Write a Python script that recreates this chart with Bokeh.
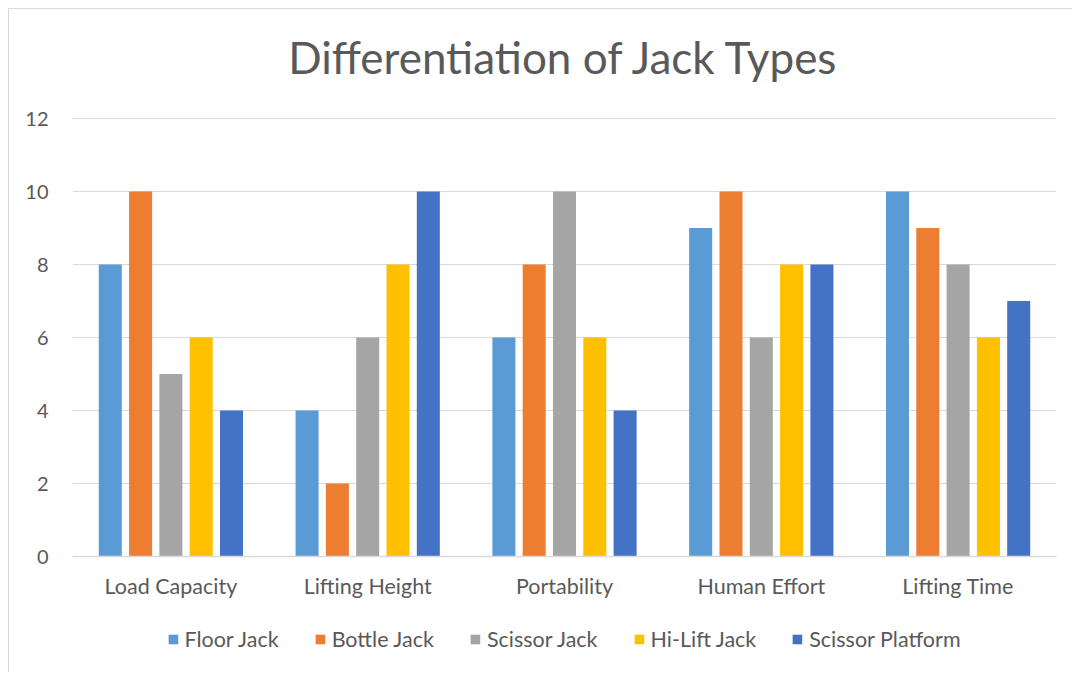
from bokeh.plotting import figure
from bokeh.layouts import column
from bokeh.models import (ColumnDataSource, FactorRange, Legend, LegendItem, Title,
                          Range1d, FixedTicker)
from bokeh.transform import dodge
from bokeh.embed import file_html
from bokeh.resources import INLINE

categories = ["Load Capacity", "Lifting Height", "Portability", "Human Effort", "Lifting Time"]
floor_jack = [8, 4, 6, 9, 10]
bottle_jack = [10, 2, 8, 10, 9]
scissor_jack = [5, 6, 10, 6, 8]
hi_lift_jack = [6, 8, 6, 8, 6]
scissor_platform = [4, 10, 4, 8, 7]
series_names = ["Floor Jack", "Bottle Jack", "Scissor Jack", "Hi-Lift Jack", "Scissor Platform"]
series_keys = ["floor_jack", "bottle_jack", "scissor_jack", "hi_lift_jack", "scissor_platform"]
colors = ["#5B9BD5", "#ED7D31", "#A5A5A5", "#FFC000", "#4472C4"]
y_ticks = [0, 2, 4, 6, 8, 10, 12]
title_text = "Differentiation of Jack Types"

FONT = "Lato"
TXT = "#595959"
FS = "21.5px"

source = ColumnDataSource(data=dict(
    cat=categories,
    floor_jack=floor_jack,
    bottle_jack=bottle_jack,
    scissor_jack=scissor_jack,
    hi_lift_jack=hi_lift_jack,
    scissor_platform=scissor_platform,
))

# title strip
p0 = figure(x_range=Range1d(0, 1), y_range=Range1d(0, 1),
            width=1064, height=97,
            output_backend="svg", toolbar_location=None,
            min_border_left=63, min_border_right=18,
            min_border_top=73, min_border_bottom=0)
p0.styles = {"margin-left": "8px", "margin-top": "8px",
             "border-left": "1px solid #D9D9D9", "border-top": "1px solid #D9D9D9"}
p0.axis.visible = False
p0.grid.grid_line_color = None
p0.outline_line_color = None
title = Title(text=title_text, align="center", text_font=FONT,
              text_font_size="44px", text_font_style="normal",
              text_color=TXT, standoff=0)
p0.add_layout(title, "above")

# main chart
p = figure(x_range=FactorRange(factors=categories, range_padding=0),
           y_range=Range1d(0, 12.03),
           frame_width=983, frame_height=439,
           output_backend="svg", toolbar_location=None,
           min_border_left=63, min_border_right=18,
           min_border_top=12, min_border_bottom=50)
p.styles = {"margin-left": "8px", "border-left": "1px solid #D9D9D9"}

offsets = [-0.308, -0.154, 0.0, 0.154, 0.308]
for key, col, off in zip(series_keys, colors, offsets):
    p.vbar(x=dodge("cat", off, range=p.x_range), top=key, width=0.117,
           source=source, fill_color=col, line_color=None)

p.outline_line_color = None
p.background_fill_color = "white"
p.border_fill_color = "white"

p.xgrid.grid_line_color = None
p.ygrid.grid_line_color = "#D9D9D9"
p.ygrid.ticker = FixedTicker(ticks=y_ticks)

p.yaxis.ticker = FixedTicker(ticks=y_ticks)
p.yaxis.axis_line_color = None
p.yaxis.major_tick_line_color = None
p.yaxis.minor_tick_line_color = None
p.yaxis.major_label_text_font = FONT
p.yaxis.major_label_text_font_size = "20px"
p.yaxis.major_label_text_color = TXT
p.yaxis.major_label_standoff = 18

p.xaxis.axis_line_color = "#D9D9D9"
p.xaxis.axis_line_width = 1.5
p.xaxis.major_tick_line_color = None
p.xaxis.minor_tick_line_color = None
p.xaxis.major_label_text_font = FONT
p.xaxis.major_label_text_font_size = FS
p.xaxis.major_label_text_color = TXT
p.xaxis.major_label_standoff = 10

# legend strip (its bars sit outside the visible y range; only the legend shows)
p2 = figure(x_range=FactorRange(factors=categories, range_padding=0),
            y_range=Range1d(100, 101),
            width=1064, height=66,
            output_backend="svg", toolbar_location=None,
            min_border_left=0, min_border_right=14,
            min_border_top=0, min_border_bottom=0)
p2.styles = {"margin-left": "8px", "border-left": "1px solid #D9D9D9"}
p2.axis.visible = False
p2.grid.grid_line_color = None
p2.outline_line_color = None

items = []
for key, name, col, off in zip(series_keys, series_names, colors, offsets):
    r = p2.vbar(x=dodge("cat", off, range=p2.x_range), top=key, width=0.117,
                source=source, fill_color=col, line_color=None)
    items.append(LegendItem(label=name, renderers=[r]))

legend = Legend(items=items, orientation="horizontal", location="center",
                label_text_font=FONT, label_text_font_size=FS,
                label_text_color=TXT, glyph_width=12, glyph_height=12,
                label_standoff=6, spacing=35, border_line_color=None,
                background_fill_alpha=0, margin=0, padding=4)
p2.add_layout(legend, "center")

layout = column(p0, p, p2, spacing=0)
open("out.html", "w").write(file_html(layout, INLINE))
